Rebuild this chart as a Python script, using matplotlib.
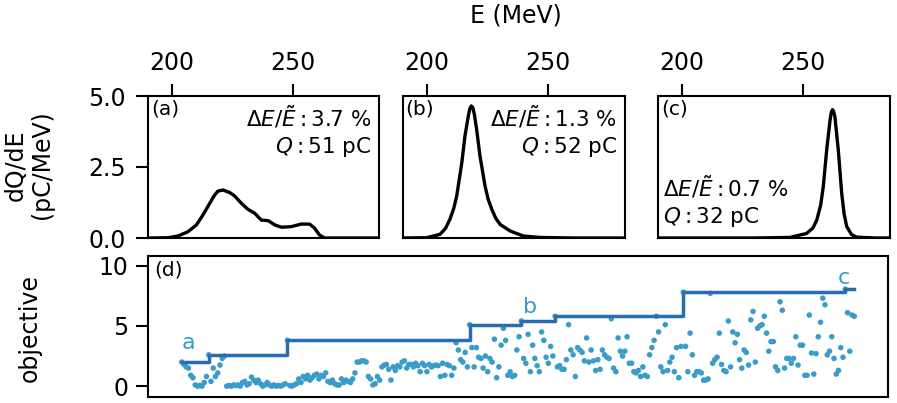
import numpy as np
import matplotlib
matplotlib.use("Agg")
import matplotlib.pyplot as plt

plt.rcParams["font.family"] = ["DejaVu Sans"]
plt.rcParams["mathtext.fontset"] = "dejavusans"

# --- spectra (E in MeV, dQ/dE in pC/MeV) ---
E_a = [190, 191.4, 198.3, 202.4, 206.5, 210, 212.7, 215.5, 217.5, 218.9, 221, 223.8, 225.8,
       228.6, 231.3, 234.1, 236.8, 239.7, 242.4, 245.1, 249.2, 253.3, 256.8, 258.9, 260.9,
       263, 272, 285]
Q_a = [0, 0, 0.01, 0.07, 0.22, 0.46, 0.81, 1.22, 1.51, 1.65, 1.69, 1.6, 1.48,
       1.22, 1.01, 0.87, 0.63, 0.61, 0.46, 0.38, 0.4, 0.49, 0.49, 0.34, 0.1,
       0.0, 0, 0]

E_b = [190, 199.8, 205.3, 207.5, 209.4, 211, 212.2, 214.3, 215.6, 217, 217.6, 218.2, 218.8,
       219.5, 220.4, 221.8, 223.9, 225.2, 226.7, 228.3, 230.1, 234.2, 239.7, 246.6, 260, 285]
Q_b = [0, 0.01, 0.13, 0.33, 0.66, 1.05, 1.48, 2.65, 3.59, 4.3, 4.55, 4.65, 4.6,
       4.35, 3.84, 2.89, 1.83, 1.36, 1.01, 0.7, 0.48, 0.25, 0.07, 0.02, 0, 0]

E_c = [190, 230, 244.5, 251.4, 254, 255.6, 257.2, 258.3, 259.7, 261.1, 261.6, 262.1, 262.6,
       263.1, 264.5, 265.9, 266.9, 268, 270, 272.1, 280, 285]
Q_c = [0, 0, 0.02, 0.16, 0.35, 0.63, 1.15, 1.81, 3.1, 4.15, 4.42, 4.52, 4.45,
       4.27, 3.1, 1.58, 0.85, 0.4, 0.12, 0.03, 0, 0]

spreads = ["3.7", "1.3", "0.7"]
charges = ["51", "52", "32"]
panel_tags = ["(a)", "(b)", "(c)"]

# --- optimisation history: objective per iteration ---
objective = [
    2.0, 1.8, 1.6, 1.5, 0.9, 0.7, 0.1, 0.0, 0.05, 0.0,
    0.3, 0.8, 2.6, 0.4, 1.5, 0.8, 1.1, 1.75, 2.3, 2.5,
    0.0, 0.05, 0.0, 0.1, 0.05, 0.1, 0.0, 0.3, 0.4, 0.1,
    0.2, 0.75, 0.5, 0.3, 0.5, 0.2, 0.0, 0.1, 0.3, 0.1,
    0.0, 0.1, 0.0, 0.05, 0.0, 0.1, 0.2, 3.8, 0.05, 0.0,
    0.1, 0.2, 0.6, 0.3, 0.8, 0.6, 0.9, 0.5, 0.7, 0.9,
    1.0, 0.6, 0.9, 0.8, 1.1, 0.4, 0.3, 0.5, 0.2, 0.1,
    0.1, 0.6, 0.3, 0.5, 0.4, 0.3, 0.6, 1.1, 2.0, 2.0,
    2.1, 2.1, 2.0, 0.8, 0.6, 0.1, 0.2, 0.8, 0.5, 1.6,
    1.75, 1.8, 1.4, 0.5, 1.6, 1.3, 1.7, 1.6, 2.0, 2.1,
    1.5, 1.8, 1.8, 1.6, 1.9, 1.7, 1.2, 1.9, 1.7, 1.2,
    1.8, 1.6, 1.7, 1.75, 1.7, 0.8, 1.9, 0.9, 1.8, 1.7,
    0.9, 1.5, 3.6, 3.0, 2.2, 2.0, 2.8, 1.6, 5.1, 3.2,
    1.6, 3.2, 2.4, 2.3, 1.5, 2.5, 1.2, 2.3, 2.0, 3.9,
    0.7, 1.6, 3.4, 4.8, 3.8, 0.9, 1.2, 0.8, 0.9, 3.0,
    4.1, 5.4, 2.3, 1.9, 4.3, 1.2, 3.4, 2.3, 1.7, 1.2,
    4.5, 3.8, 2.4, 1.9, 3.3, 2.5, 5.8, 1.6, 1.7, 1.4,
    1.4, 2.2, 5.1, 3.0, 2.6, 0.8, 3.2, 3.0, 2.8, 2.1,
    4.0, 2.0, 3.0, 2.1, 1.3, 2.2, 1.4, 3.0, 2.6, 2.4,
    2.3, 5.6, 1.5, 1.2, 4.0, 2.9, 2.5, 2.9, 4.1, 1.9,
    1.9, 1.2, 1.1, 1.3, 0.8, 1.6, 0.9, 0.8, 2.6, 3.2,
    3.8, 5.8, 4.5, 1.6, 1.2, 5.1, 1.3, 2.0, 2.4, 1.2,
    3.2, 0.7, 3.3, 7.8, 3.3, 1.2, 4.4, 2.6, 0.9, 1.2,
    1.2, 1.1, 0.5, 0.5, 0.6, 7.7, 1.9, 2.2, 2.4, 4.4,
    1.8, 1.3, 1.2, 5.4, 1.6, 4.5, 3.6, 4.3, 2.2, 1.5,
    3.0, 2.8, 1.75, 5.5, 6.2, 2.0, 4.8, 5.0, 5.1, 5.8,
    4.4, 2.9, 3.7, 3.7, 1.6, 1.3, 7.0, 6.3, 1.5, 2.3,
    2.3, 1.9, 2.3, 4.1, 1.75, 3.4, 3.4, 0.9, 0.9, 5.9,
    2.75, 1.0, 2.7, 4.1, 5.3, 7.3, 6.75, 2.6, 2.9, 4.1,
    2.3, 1.0, 1.3, 3.2, 2.4, 8.05, 6.1, 2.9, 5.9, 5.8,
]
iteration = np.arange(len(objective))

# best-so-far steps
best_iter = [0, 12, 47, 128, 151, 166, 223, 295, 299]
best_val = [2.0, 2.6, 3.8, 5.1, 5.4, 5.8, 7.8, 8.05, 8.05]

# where the three spectra sit in the history
marks = ["a", "b", "c"]
mark_iter = [3, 155, 294.5]
mark_val = [3.6, 6.6, 9.0]

dot_color = "#3a9cc8"
line_color = "#2a6cb2"

W, H = 897, 403
fig = plt.figure(figsize=(W / 100, H / 100), dpi=100)

def box(l, t, r, b):
    return [l / W, 1 - b / H, (r - l) / W, (b - t) / H]

spectra = [(E_a, Q_a), (E_b, Q_b), (E_c, Q_c)]
frames = [box(148, 96, 379, 238), box(403, 96, 625, 238), box(658, 96, 890, 238)]

for k, ((E, Q), rect) in enumerate(zip(spectra, frames)):
    ax = fig.add_axes(rect)
    ax.plot(E, Q, color="black", lw=2.4, solid_joinstyle="round")
    ax.set_xlim(190, 190 + (rect[2] * W) / 2.42)
    ax.set_ylim(0, 5)
    ax.xaxis.tick_top()
    ax.set_xticks([200, 250])
    ax.tick_params(axis="x", labelsize=17, length=9, width=1.5, pad=6)
    if k == 0:
        ax.set_yticks([0, 2.5, 5.0])
        ax.set_yticklabels(["0.0", "2.5", "5.0"])
        ax.tick_params(axis="y", labelsize=17, length=9, width=1.5, pad=7)
    else:
        ax.set_yticks([])
    for s in ax.spines.values():
        s.set_linewidth(1.5)
    ax.text(0.012, 0.975, panel_tags[k], transform=ax.transAxes, ha="left", va="top", fontsize=14.5)
    info = r"$\Delta E/\tilde{E}:$" + spreads[k] + " %\n" + r"$Q:$" + charges[k] + " pC"
    if k < 2:
        ax.text(0.965, 0.95, info, transform=ax.transAxes, ha="right", va="top",
                fontsize=15.5, linespacing=1.25)
    else:
        ax.text(0.02, 0.06, info, transform=ax.transAxes, ha="left", va="bottom",
                fontsize=15.5, linespacing=1.25)

fig.text(516 / W, 1 - 16 / H, "E (MeV)", ha="center", va="center", fontsize=17)
fig.text(29 / W, 1 - 165 / H, "dQ/dE\n(pC/MeV)", ha="center", va="center",
         rotation=90, fontsize=17, linespacing=1.15)

# --- history panel ---
ax = fig.add_axes(box(148, 256, 888, 397))
ax.scatter(iteration, objective, s=16, color=dot_color, edgecolors="none", zorder=2)
ax.step(best_iter, best_val, where="post", color=line_color, lw=2.5, zorder=3)
for m, xi, yv in zip(marks, mark_iter, mark_val):
    ax.text(xi, yv, m, color=dot_color, fontsize=16, ha="center", va="center")
ax.set_xlim(-15, 314)
ax.set_ylim(-0.9, 10.8)
ax.set_xticks([])
ax.set_yticks([0, 5, 10])
ax.tick_params(axis="y", labelsize=17, length=9, width=1.5, pad=5)
for s in ax.spines.values():
    s.set_linewidth(1.5)
ax.text(0.008, 0.965, "(d)", transform=ax.transAxes, ha="left", va="top", fontsize=14.5)
fig.text(30 / W, 1 - 328 / H, "objective", ha="center", va="center", rotation=90, fontsize=17)

fig.savefig("out.png", dpi=100)
